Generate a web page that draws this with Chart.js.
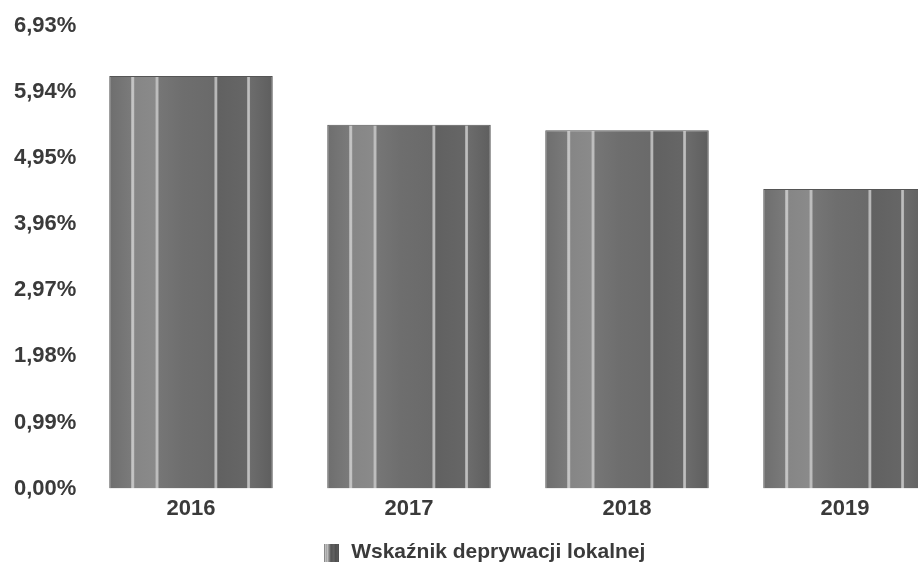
<!DOCTYPE html>
<html>
<head>
<meta charset="utf-8">
<script src="https://cdn.jsdelivr.net/npm/chart.js@4/dist/chart.umd.min.js"></script>
<style>
html,body{margin:0;padding:0;background:#fff;overflow:hidden;}
#wrap{position:relative;width:960px;height:562px;}
</style>
</head>
<body>
<div id="wrap"><canvas id="c"></canvas></div>
<script>
const categories = ['2016', '2017', '2018', '2019'];
const seriesName = 'Wskaźnik deprywacji lokalnej';
const values = [6.18, 5.45, 5.37, 4.49];
const yTicks = [0, 0.99, 1.98, 2.97, 3.96, 4.95, 5.94, 6.93];

const BAR_PCT = 0.75;
const stripeStops = [
  [0, '#6e6e6e'], [0.13, '#7a7a7a'], [0.138, '#c4c4c4'], [0.148, '#c4c4c4'], [0.156, '#868686'],
  [0.28, '#8a8a8a'], [0.287, '#bdbdbd'], [0.297, '#bdbdbd'], [0.305, '#767676'],
  [0.45, '#6e6e6e'], [0.64, '#6a6a6a'], [0.647, '#b8b8b8'], [0.657, '#b8b8b8'], [0.664, '#616161'],
  [0.84, '#666666'], [0.847, '#bebebe'], [0.857, '#bebebe'], [0.864, '#6c6c6c'], [1, '#5e5e5e']
];
function barFill(c) {
  const chart = c.chart;
  const xs = chart.scales && chart.scales.x;
  if (c.dataIndex === undefined || !xs || !chart.chartArea) return '#6a6a6a';
  const cx = xs.getPixelForValue(c.dataIndex);
  const w = (xs.width / categories.length) * BAR_PCT;
  const g = chart.ctx.createLinearGradient(cx - w / 2, 0, cx + w / 2, 0);
  stripeStops.forEach(s => g.addColorStop(s[0], s[1]));
  return g;
}

// small striped legend swatch
const swatch = document.createElement('canvas');
swatch.width = 15; swatch.height = 18;
(function () {
  const s = swatch.getContext('2d');
  const cols = ['#8a8a8a', '#d0d0d0', '#9a9a9a', '#c8c8c8', '#8c8c8c', '#7a7a7a', '#5a5a5a', '#555555', '#5c5c5c', '#606060', '#585858', '#4e4e4e', '#555555', '#5a5a5a', '#505050'];
  cols.forEach((col, i) => { s.fillStyle = col; s.fillRect(i, 0, 1, 18); });
})();

const fontFam = '"Liberation Sans", Arial, sans-serif';
const textColor = '#3a3a3a';

new Chart(document.getElementById('c'), {
  type: 'bar',
  data: {
    labels: categories,
    datasets: [{
      label: seriesName,
      data: values,
      backgroundColor: barFill,
      borderColor: '#555555',
      borderWidth: 1,
      barPercentage: BAR_PCT,
      categoryPercentage: 1
    }]
  },
  options: {
    responsive: true,
    maintainAspectRatio: false,
    animation: false,
    layout: { padding: { left: 14, right: 6, top: 26, bottom: -11 } },
    plugins: {
      tooltip: { enabled: false },
      legend: {
        position: 'bottom',
        labels: {
          color: textColor,
          font: { family: fontFam, size: 21, weight: 'bold' },
          usePointStyle: true,
          pointStyleWidth: 18,
          padding: 2,
          generateLabels: chart => chart.data.datasets.map((d, i) => ({
            text: d.label,
            fillStyle: '#666666',
            strokeStyle: '#666666',
            lineWidth: 0,
            pointStyle: swatch,
            hidden: false,
            datasetIndex: i,
            fontColor: textColor
          }))
        }
      }
    },
    scales: {
      x: {
        grid: { display: false, drawTicks: false },
        border: { display: false },
        afterFit: s => { s.height += 11; },
        ticks: {
          color: textColor,
          padding: 7,
          font: { family: fontFam, size: 22, weight: 'bold' }
        }
      },
      y: {
        min: 0,
        max: 6.93,
        grid: { display: false, drawTicks: false },
        border: { display: false },
        afterBuildTicks: s => { s.ticks = yTicks.map(v => ({ value: v })); },
        afterFit: s => { s.width = 68; },
        ticks: {
          color: textColor,
          crossAlign: 'far',
          padding: 0,
          font: { family: fontFam, size: 22, weight: 'bold' },
          callback: v => Number(v).toFixed(2).replace('.', ',') + '%'
        }
      }
    }
  }
});
</script>
</body>
</html>
